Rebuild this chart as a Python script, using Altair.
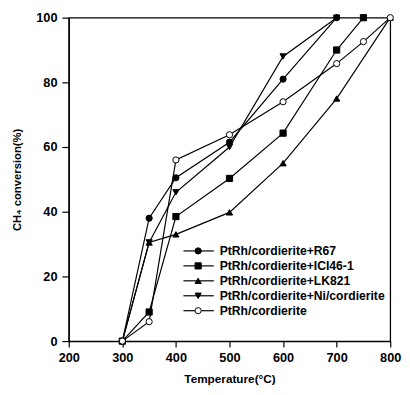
import altair as alt
import pandas as pd

series_names = [
    "PtRh/cordierite+R67",
    "PtRh/cordierite+ICI46-1",
    "PtRh/cordierite+LK821",
    "PtRh/cordierite+Ni/cordierite",
    "PtRh/cordierite",
]
shapes = ["circle", "square", "triangle-up", "triangle-down", "circle"]
fills = ["black", "black", "black", "black", "white"]

temp_r67 = [300, 350, 400, 500, 600, 700]
conv_r67 = [0, 38, 50.5, 61.5, 81, 100]
temp_ici = [300, 350, 400, 500, 600, 700, 750]
conv_ici = [0, 9, 38.5, 50.3, 64.3, 90, 100]
temp_lk = [300, 350, 400, 500, 600, 700, 800]
conv_lk = [0, 30.5, 33, 39.8, 55, 75, 100]
temp_ni = [300, 350, 400, 500, 600, 700]
conv_ni = [0, 30.5, 46, 60, 88, 100]
temp_pr = [300, 350, 400, 500, 600, 700, 750, 800]
conv_pr = [0, 6, 56, 63.8, 74, 85.8, 92.6, 100]

x_ticks = [200, 300, 400, 500, 600, 700, 800]
y_ticks = [0, 20, 40, 60, 80, 100]

temps = [temp_r67, temp_ici, temp_lk, temp_ni, temp_pr]
convs = [conv_r67, conv_ici, conv_lk, conv_ni, conv_pr]
rows = []
for name, ts, cs in zip(series_names, temps, convs):
    for t, c in zip(ts, cs):
        rows.append({"series": name, "temp": t, "conv": c})
df = pd.DataFrame(rows)
leg_df = pd.DataFrame({"series": series_names})

FONT = "Liberation Sans"

shape_scale = alt.Scale(domain=series_names, range=shapes)
fill_scale = alt.Scale(domain=series_names, range=fills)

x_enc = alt.X(
    "temp:Q",
    scale=alt.Scale(domain=[200, 800], nice=False),
    axis=alt.Axis(values=x_ticks, title="Temperature(°C)", tickSize=6,
                  labelPadding=5, titlePadding=9, labelFlush=False),
)
y_enc = alt.Y(
    "conv:Q",
    scale=alt.Scale(domain=[0, 100], nice=False),
    axis=alt.Axis(values=y_ticks, title="CH₄ conversion(%)", tickSize=7,
                  labelPadding=5, titlePadding=14, titleFontSize=11.5,
                  labelFlush=False),
)

lines = alt.Chart(df).mark_line(color="black", strokeWidth=1.2).encode(
    x=x_enc, y=y_enc, detail="series:N", order="temp:Q"
)
points = alt.Chart(df).mark_point(
    filled=True, stroke="black", strokeWidth=1, size=40, opacity=1
).encode(
    x=x_enc,
    y=y_enc,
    shape=alt.Shape("series:N", scale=shape_scale, legend=None),
    fill=alt.Fill("series:N", scale=fill_scale, legend=None),
)
main = alt.layer(lines, points)

leg_y = alt.Y(
    "series:N",
    scale=alt.Scale(type="point", domain=series_names, range=[238, 299], padding=0),
    axis=None,
)
leg_rule = alt.Chart(leg_df).mark_rule(color="black", strokeWidth=1.2).encode(
    x=alt.value(117), x2=alt.value(148), y=leg_y
)
leg_pts = alt.Chart(leg_df).mark_point(
    filled=True, stroke="black", strokeWidth=1, size=40, opacity=1
).encode(
    x=alt.value(132),
    y=leg_y,
    shape=alt.Shape("series:N", scale=shape_scale, legend=None),
    fill=alt.Fill("series:N", scale=fill_scale, legend=None),
)
leg_txt = alt.Chart(leg_df).mark_text(
    align="left", baseline="middle", fontSize=12.4, fontWeight="bold",
    font=FONT, color="black"
).encode(x=alt.value(154), y=leg_y, text="series:N")
legend = alt.layer(leg_rule, leg_pts, leg_txt)

chart = (
    alt.layer(main, legend)
    .resolve_scale(y="independent")
    .properties(
        width=328,
        height=330,
        autosize=alt.AutoSizeParams(type="none"),
        padding={"left": 62, "top": 6, "right": 12, "bottom": 45},
        background="white",
    )
    .configure_view(stroke="black", strokeWidth=1.3)
    .configure_axis(
        grid=False,
        labelFont=FONT,
        labelFontSize=13,
        labelFontWeight="bold",
        labelColor="black",
        titleFont=FONT,
        titleFontSize=12,
        titleFontWeight="bold",
        titleColor="black",
        domainColor="black",
        domainWidth=1.3,
        tickColor="black",
        tickWidth=1.2,
    )
)

chart.save("out.html", embed_options={"renderer": "svg", "actions": False})
